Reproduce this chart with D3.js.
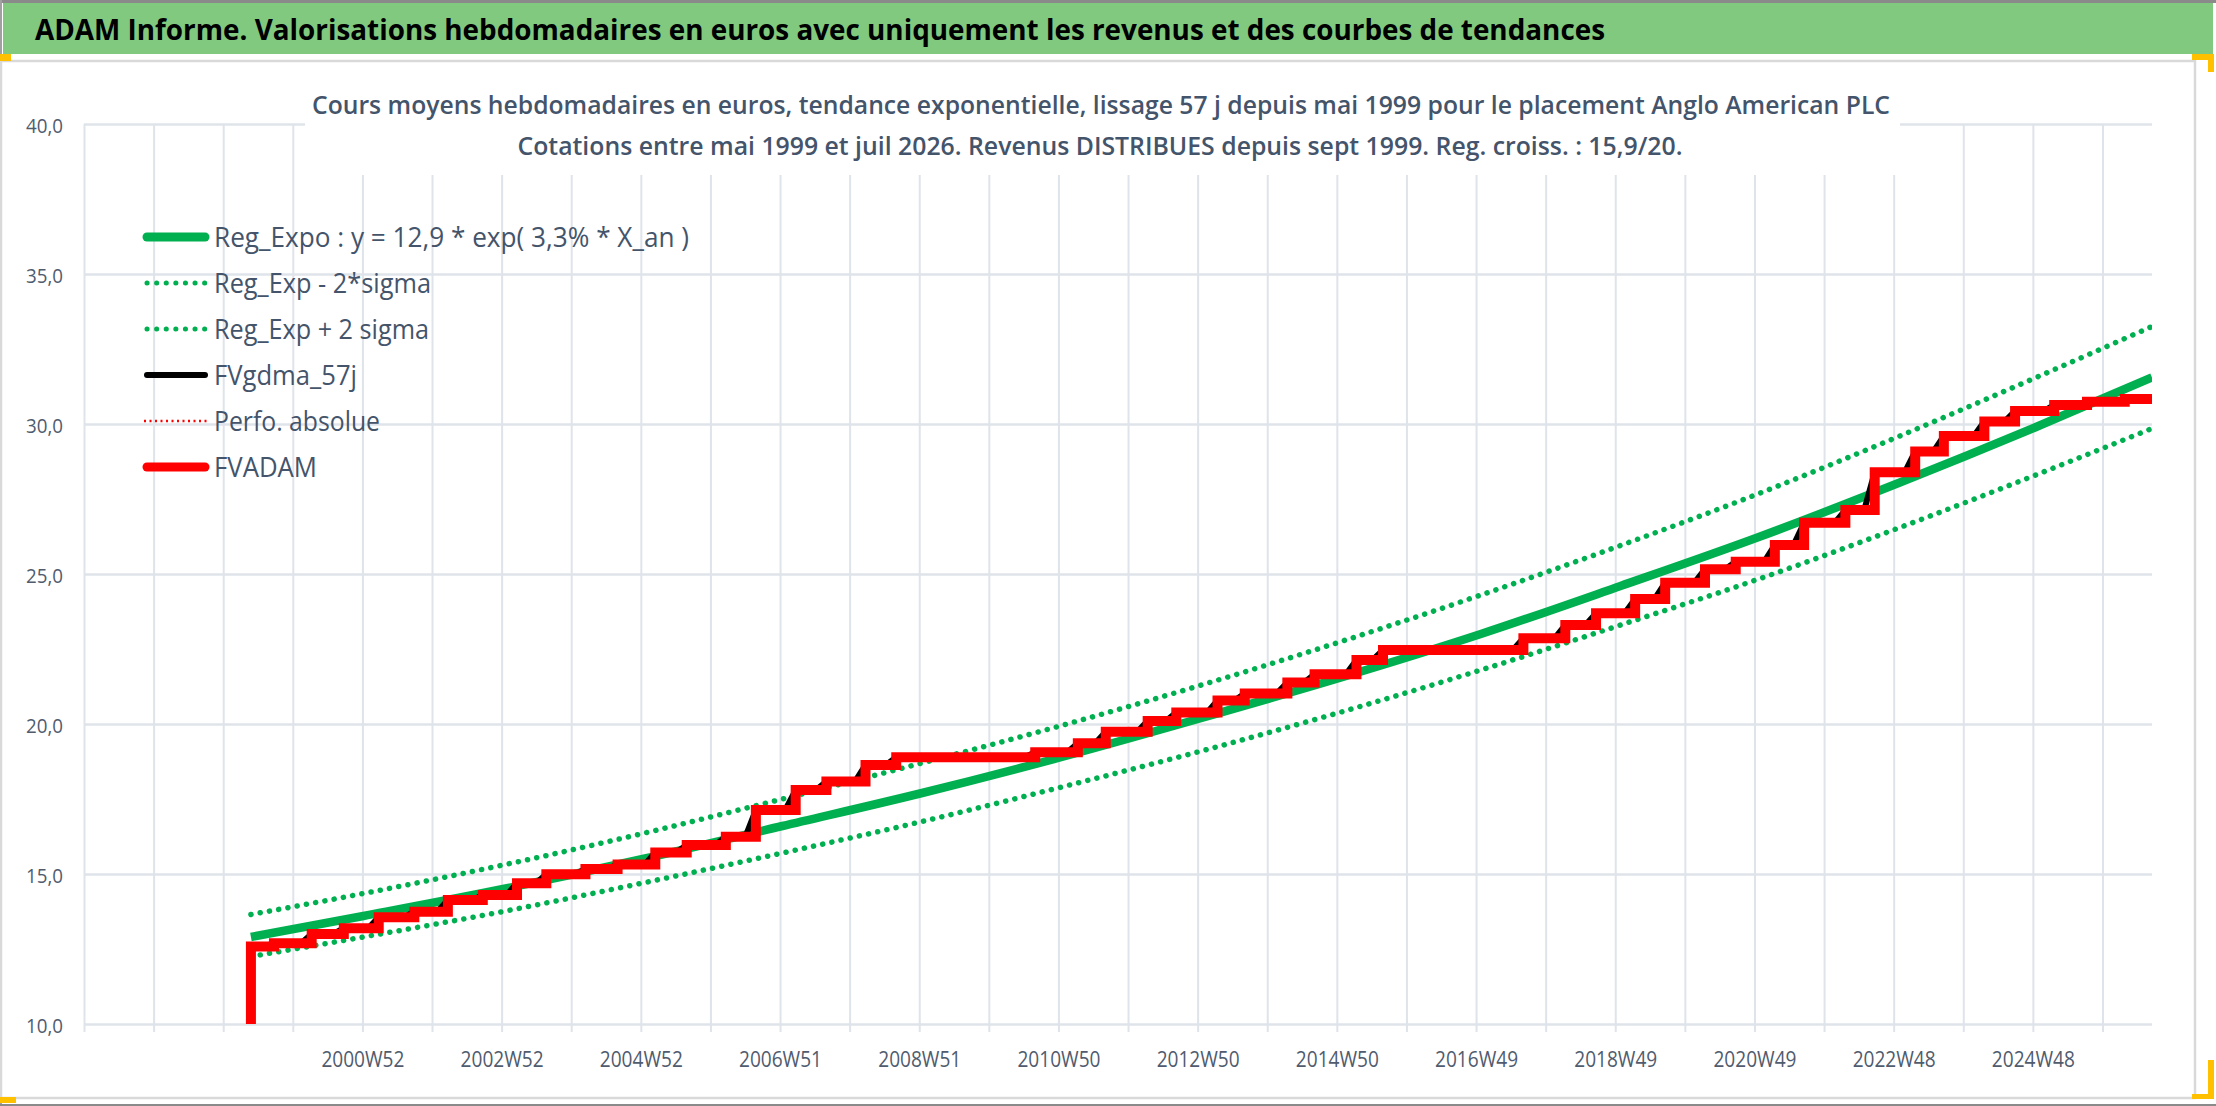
<!DOCTYPE html>
<html lang="fr">
<head>
<meta charset="utf-8">
<title>ADAM Informe - Anglo American PLC</title>
<script src="https://d3js.org/d3.v7.min.js"></script>
<style>
	body { margin: 0; background: #fff; }
	svg text { font-family: "Open Sans", "Noto Sans", sans-serif; }
	.grid line { stroke: #dfe3ea; }
	.grid path { display: none; }
	.tick-labels path { display: none; }
	.tick-labels text { fill: #505c6e; }
</style>
</head>
<body>
<script>

// Texts
var headerText = "ADAM Informe. Valorisations hebdomadaires en euros avec uniquement les revenus et des courbes de tendances";
var titleLine1 = "Cours moyens hebdomadaires en euros, tendance exponentielle, lissage 57 j depuis mai 1999 pour le placement Anglo American PLC";
var titleLine2 = "Cotations entre mai 1999 et juil 2026. Revenus DISTRIBUES depuis sept 1999. Reg. croiss. : 15,9/20.";

// Axis labels (category axis: a label every 104 weeks, a gridline every 52)
var xLabels = ["2000W52", "2002W52", "2004W52", "2006W51", "2008W51", "2010W50", "2012W50",
               "2014W50", "2016W49", "2018W49", "2020W49", "2022W48", "2024W48"];
var yTicks = [10, 15, 20, 25, 30, 35, 40];

// Exponential trend and +/- 2 sigma bands
var trendYears  = [1999.39, 2001, 2003, 2005, 2007, 2009, 2011, 2013, 2015, 2017, 2019, 2021, 2023, 2025, 2026.61];
var trendValues = [12.9, 13.6, 14.5, 15.5, 16.6, 17.7, 18.9, 20.2, 21.55, 23.0, 24.6, 26.25, 28.05, 29.95, 31.55];
var upperValues = [13.65, 14.35, 15.3, 16.35, 17.5, 18.7, 19.95, 21.3, 22.75, 24.3, 25.95, 27.7, 29.6, 31.6, 33.25];
var lowerValues = [12.25, 12.9, 13.75, 14.7, 15.7, 16.75, 17.9, 19.1, 20.4, 21.8, 23.3, 24.85, 26.55, 28.35, 29.85];

// FVADAM : valuation with distributed revenues (steps at each dividend)
var stepYears  = [1999.38, 1999.39, 1999.72, 2000.26, 2000.72, 2001.22, 2001.73, 2002.21, 2002.71, 2003.20,
                  2003.62, 2004.18, 2004.64, 2005.18, 2005.63, 2006.19, 2006.62, 2007.19, 2007.63, 2008.19,
                  2008.63, 2010.62, 2011.23, 2011.63, 2012.23, 2012.64, 2013.23, 2013.62, 2014.23, 2014.62,
                  2015.22, 2015.60, 2017.61, 2018.21, 2018.65, 2019.21, 2019.64, 2020.21, 2020.65, 2021.21,
                  2021.63, 2022.22, 2022.64, 2023.22, 2023.63, 2024.21, 2024.65, 2025.21, 2025.68, 2026.22,
                  2026.61];
var stepValues = [0, 12.58, 12.69, 13.00, 13.19, 13.56, 13.74, 14.13, 14.30, 14.69,
                  14.99, 15.17, 15.32, 15.72, 15.97, 16.24, 17.13, 17.80, 18.08, 18.63,
                  18.89, 19.06, 19.36, 19.74, 20.10, 20.38, 20.78, 21.02, 21.38, 21.66,
                  22.13, 22.47, 22.86, 23.30, 23.69, 24.17, 24.71, 25.16, 25.41, 25.97,
                  26.71, 27.13, 28.39, 29.08, 29.60, 30.08, 30.43, 30.63, 30.74, 30.83,
                  30.83];

// Legend entries
var legendNames = ["Reg_Expo : y = 12,9 * exp( 3,3% *  X_an )", "Reg_Exp - 2*sigma", "Reg_Exp + 2 sigma",
                   "FVgdma_57j", "Perfo. absolue", "FVADAM"];

// Layout
var fullWidth = 2216, fullHeight = 1106;
var margin = {top: 124, right: 64, bottom: 82, left: 84};
var width = fullWidth - margin.left - margin.right;
var height = fullHeight - margin.top - margin.bottom;

var weeksPerYear = 52.1775;
var axisWeeks = 1545;
var green = "#00b050", red = "#ff0000";

var svg = d3.select("body").append("svg")
	.attr("width", fullWidth)
	.attr("height", fullHeight);

// Frame and green header band
svg.append("rect").attr("x", 0).attr("y", 0).attr("width", fullWidth).attr("height", fullHeight).attr("fill", "#fff");
svg.append("rect").attr("x", 0).attr("y", 0).attr("width", fullWidth).attr("height", 3).attr("fill", "#8a8a8a");
svg.append("rect").attr("x", 0).attr("y", 0).attr("width", 2).attr("height", fullHeight).attr("fill", "#a0a0a0");
svg.append("rect").attr("x", 3).attr("y", 3).attr("width", fullWidth - 6).attr("height", 51).attr("fill", "#80c97f");
svg.append("text")
	.attr("x", 35).attr("y", 40)
	.attr("font-size", 29).attr("font-weight", 700).attr("fill", "#000")
	.attr("textLength", 1570).attr("lengthAdjust", "spacingAndGlyphs")
	.text(headerText);

// chart area border
svg.append("rect").attr("x", 1).attr("y", 61).attr("width", 2194).attr("height", 1037)
	.attr("fill", "none").attr("stroke", "#d9d9d9").attr("stroke-width", 2.5);
svg.append("rect").attr("x", 0).attr("y", fullHeight - 2).attr("width", fullWidth).attr("height", 2).attr("fill", "#8a8a8a");

// Excel selection handles
var handles = [[0, 54, 11, 7], [2192, 54, 22, 6], [2208, 54, 6, 18], [2208, 1060, 6, 38], [2192, 1094, 22, 5], [0, 1097, 16, 6]];
svg.selectAll("rect.handle").data(handles).enter().append("rect")
	.attr("class", "handle")
	.attr("x", function(d) { return d[0]; }).attr("y", function(d) { return d[1]; })
	.attr("width", function(d) { return d[2]; }).attr("height", function(d) { return d[3]; })
	.attr("fill", "#ffc000");

var g = svg.append("g").attr("transform", "translate(" + margin.left + "," + margin.top + ")");

// Scales
var xScale = d3.scaleLinear()
	.domain([1997, 1997 + axisWeeks / weeksPerYear])
	.range([0, width]);
var yScale = d3.scaleLinear()
	.domain([10, 40])
	.range([height, 0]);

var gridYears = d3.range(0, 30).map(function(k) { return 1997 + k * 52 / weeksPerYear; });
var labelYears = xLabels.map(function(l, i) { return 1997 + (4 + 2 * i) * 52 / weeksPerYear; });

// Gridlines
g.append("g")
	.attr("class", "grid")
	.call(d3.axisLeft(yScale).tickValues(yTicks).tickSize(-width).tickFormat(""))
	.selectAll("line").attr("stroke-width", 2.5);

g.append("g")
	.attr("class", "grid")
	.attr("transform", "translate(0," + (height + 8) + ")")
	.call(d3.axisBottom(xScale).tickValues(gridYears).tickSize(-(height + 8)).tickFormat(""))
	.selectAll("line").attr("stroke-width", 2);

// Tick labels
var comma = d3.formatLocale({decimal: ",", thousands: " ", grouping: [3], currency: ["", "€"]}).format(".1f");

g.append("g")
	.attr("class", "tick-labels")
	.call(d3.axisLeft(yScale).tickValues(yTicks).tickSize(0).tickPadding(21).tickFormat(comma))
	.selectAll("text")
	.attr("font-size", 20)
	.attr("dy", "0.42em")
	.attr("textLength", 37).attr("lengthAdjust", "spacingAndGlyphs");

g.append("g")
	.attr("class", "tick-labels")
	.attr("transform", "translate(0," + height + ")")
	.call(d3.axisBottom(xScale).tickValues(labelYears).tickSize(0).tickPadding(28)
		.tickFormat(function(d, i) { return xLabels[i]; }))
	.selectAll("text")
	.attr("font-size", 21)
	.attr("textLength", 83).attr("lengthAdjust", "spacingAndGlyphs");

// Title box (hides the gridlines behind it)
svg.append("rect").attr("x", 305).attr("y", 76).attr("width", 1595).attr("height", 99).attr("fill", "#fff");
svg.append("text")
	.attr("x", 1101).attr("y", 114).attr("text-anchor", "middle")
	.attr("font-size", 26).attr("font-weight", 600).attr("fill", "#44546a")
	.attr("textLength", 1578).attr("lengthAdjust", "spacingAndGlyphs")
	.text(titleLine1);
svg.append("text")
	.attr("x", 1100).attr("y", 155).attr("text-anchor", "middle")
	.attr("font-size", 26).attr("font-weight", 600).attr("fill", "#44546a")
	.attr("textLength", 1165).attr("lengthAdjust", "spacingAndGlyphs")
	.text(titleLine2);

// Series
var clip = svg.append("clipPath").attr("id", "plot-clip")
	.append("rect").attr("width", width).attr("height", height);
var plot = g.append("g").attr("clip-path", "url(#plot-clip)");

var curveLine = d3.line()
	.x(function(d) { return xScale(d[0]); })
	.y(function(d) { return yScale(d[1]); })
	.curve(d3.curveMonotoneX);

var trendPts = trendYears.map(function(t, i) { return [t, trendValues[i]]; });
var upperPts = trendYears.map(function(t, i) { return [t, upperValues[i]]; });
var lowerPts = trendYears.map(function(t, i) { return [t, lowerValues[i]]; });

[lowerPts, upperPts].forEach(function(pts) {
	plot.append("path")
		.attr("d", curveLine(pts))
		.attr("fill", "none")
		.attr("stroke", green)
		.attr("stroke-width", 5.5)
		.attr("stroke-linecap", "round")
		.attr("stroke-dasharray", "0.1 9.3");
});

plot.append("path")
	.attr("d", curveLine(trendPts))
	.attr("fill", "none")
	.attr("stroke", green)
	.attr("stroke-width", 8.5);

// FVgdma_57j : 57 day moving average of FVADAM, each step becomes a short ramp
var smoothSpan = 0.15;
var blackPts = [[stepYears[0], stepValues[0]], [stepYears[1], stepValues[1]]];
for (var i = 2; i < stepYears.length - 1; i++) {
	blackPts.push([stepYears[i] - smoothSpan, stepValues[i - 1]]);
	blackPts.push([stepYears[i], stepValues[i]]);
}
blackPts.push([stepYears[stepYears.length - 1], stepValues[stepValues.length - 1]]);

var straightLine = d3.line()
	.x(function(d) { return xScale(d[0]); })
	.y(function(d) { return yScale(d[1]); });

plot.append("path")
	.attr("d", straightLine(blackPts))
	.attr("fill", "none")
	.attr("stroke", "#000")
	.attr("stroke-width", 6);

var stepLine = d3.line()
	.x(function(d) { return xScale(d[0]); })
	.y(function(d) { return yScale(d[1]); })
	.curve(d3.curveStepAfter);

plot.append("path")
	.attr("d", stepLine(stepYears.map(function(t, i) { return [t, stepValues[i]]; })))
	.attr("fill", "none")
	.attr("stroke", red)
	.attr("stroke-width", 10)
	.attr("stroke-linejoin", "miter");

// Legend
var legendStyles = [
	{color: green, width: 9, dash: null, cap: "round"},
	{color: green, width: 5, dash: "0.1 9.5", cap: "round"},
	{color: green, width: 5, dash: "0.1 9.5", cap: "round"},
	{color: "#000", width: 6, dash: null, cap: "round"},
	{color: red, width: 2.5, dash: "2 3.5", cap: "butt"},
	{color: red, width: 9, dash: null, cap: "round"}
];
var legendWidths = [475, 217, 215, 143, 166, 103];

var legend = svg.append("g").attr("transform", "translate(144,237)");
var rows = legend.selectAll("g").data(legendNames).enter().append("g")
	.attr("transform", function(d, i) { return "translate(0," + (i * 46) + ")"; });

rows.append("line")
	.attr("x1", function(d, i) { return legendStyles[i].cap === "round" ? 3 : 0; })
	.attr("x2", function(d, i) { return legendStyles[i].cap === "round" ? 61 : 64; })
	.attr("stroke", function(d, i) { return legendStyles[i].color; })
	.attr("stroke-width", function(d, i) { return legendStyles[i].width; })
	.attr("stroke-linecap", function(d, i) { return legendStyles[i].cap; })
	.attr("stroke-dasharray", function(d, i) { return legendStyles[i].dash; });

rows.append("text")
	.attr("x", 70).attr("y", 10)
	.attr("font-size", 28).attr("fill", "#44546a")
	.attr("textLength", function(d, i) { return legendWidths[i]; })
	.attr("lengthAdjust", "spacingAndGlyphs")
	.text(function(d) { return d; });

</script>
</body>
</html>
